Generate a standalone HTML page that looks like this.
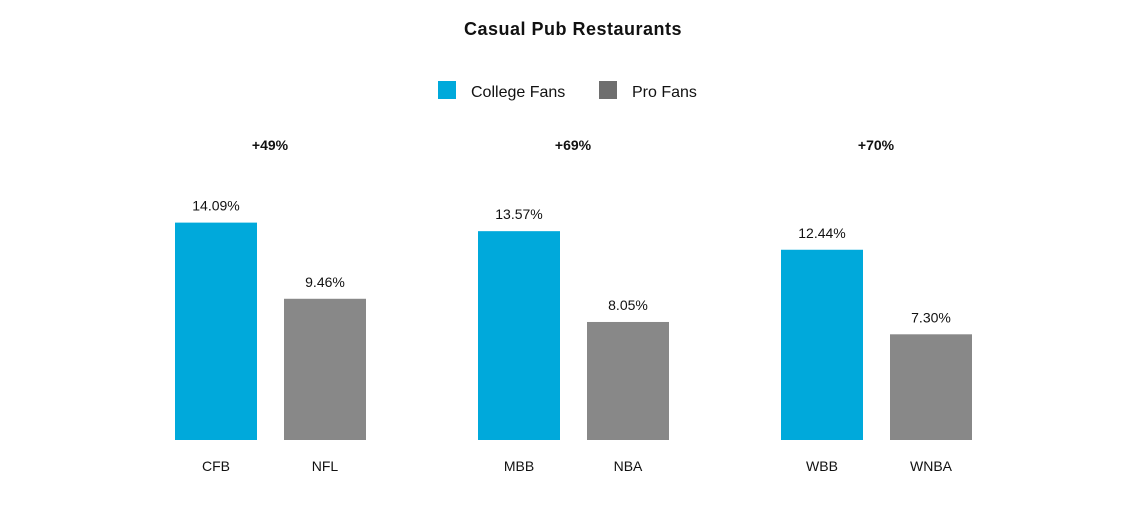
<!DOCTYPE html>
<html><head><meta charset="utf-8"><style>
body{margin:0;background:#fff;width:1148px;height:511px;overflow:hidden;font-family:"Liberation Sans",sans-serif}
</style></head><body>
<svg width="1148" height="511">
<text x="573" y="35" text-anchor="middle" font-size="18" font-weight="bold" fill="#111" letter-spacing="0.5">Casual Pub Restaurants</text>
<g>
<rect x="438" y="81" width="18" height="18" fill="#00a9db"/>
<text x="471" y="97" font-size="16" fill="#111">College Fans</text>
<rect x="599" y="81" width="18" height="18" fill="#6e6e6e"/>
<text x="632" y="97" font-size="16" fill="#111">Pro Fans</text>
</g>
<g id="bars"></g>
</svg>
<script>
const categories=["CFB","NFL","MBB","NBA","WBB","WNBA"];
const values=[14.09,9.46,13.57,8.05,12.44,7.30];
const groupLabels=["+49%","+69%","+70%"];
const svg=document.getElementById('bars');
const NS='http://www.w3.org/2000/svg';
function y(v){return 440-16.45*(v-0.875);}
function x(i){return 175+Math.floor(i/2)*303+(i%2)*109;}
const w=82;
function mk(tag,attrs){const e=document.createElementNS(NS,tag);for(const k in attrs)e.setAttribute(k,attrs[k]);svg.appendChild(e);return e;}
values.forEach((v,i)=>{
  const r=mk('rect',{x:x(i),y:y(v),width:w,height:440-y(v),fill:i%2?'#888888':'#00a9db'});
  
  
  const t=mk('text',{x:x(i)+w/2,y:y(v)-12,'text-anchor':'middle','font-size':'14',fill:'#111'});
  t.textContent=v.toFixed(2)+'%';
  
  
  const c=mk('text',{x:x(i)+w/2,y:471,'text-anchor':'middle','font-size':'14',fill:'#111'});
  c.textContent=categories[i];
  
  
});
groupLabels.forEach((g,j)=>{
  const t=mk('text',{x:x(j*2)+95,y:150,'text-anchor':'middle','font-size':'14','font-weight':'bold',fill:'#111'});
  t.textContent=g;
  
  
});
</script>
</body></html>
